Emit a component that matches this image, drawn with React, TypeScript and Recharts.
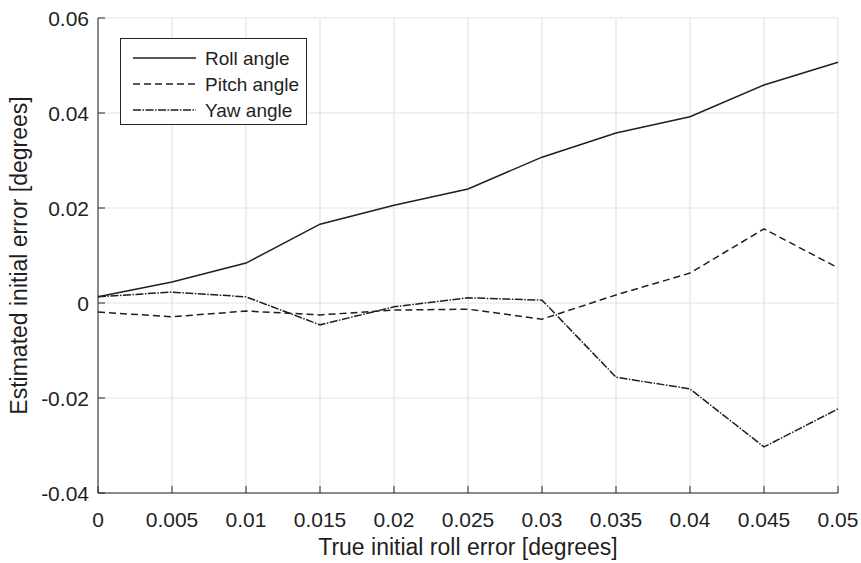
import React from 'react'
import {
  LineChart,
  Line,
  XAxis,
  YAxis,
  CartesianGrid,
} from 'recharts'

const trueRollError = [0, 0.005, 0.01, 0.015, 0.02, 0.025, 0.03, 0.035, 0.04, 0.045, 0.05]
const rollAngle = [0.0013, 0.0044, 0.0084, 0.0166, 0.0206, 0.024, 0.0307, 0.0358, 0.0392, 0.0459, 0.0507]
const pitchAngle = [-0.0019, -0.0029, -0.0017, -0.0025, -0.0015, -0.0013, -0.0034, 0.0017, 0.0063, 0.0156, 0.0074]
const yawAngle = [0.0013, 0.0023, 0.0013, -0.0046, -0.0008, 0.0011, 0.0006, -0.0156, -0.0181, -0.0303, -0.0223]

const xTicks = [0, 0.005, 0.01, 0.015, 0.02, 0.025, 0.03, 0.035, 0.04, 0.045, 0.05]
const yTicks = [-0.04, -0.02, 0, 0.02, 0.04, 0.06]

const data = trueRollError.map((x, i) => ({
  x,
  roll: rollAngle[i],
  pitch: pitchAngle[i],
  yaw: yawAngle[i],
}))

const FONT = 'Liberation Sans, Arial, sans-serif'
const INK = '#1f1f1f'
const AXIS = '#262626'

const series = [
  { key: 'roll', name: 'Roll angle', dash: undefined as string | undefined },
  { key: 'pitch', name: 'Pitch angle', dash: '7 4' },
  { key: 'yaw', name: 'Yaw angle', dash: '8 1.5 1.5 1.5' },
]

// MATLAB style ticks point into the plot
const XTick = (props: any) => {
  const { x, y, payload } = props
  return (
    <g>
      <line x1={x} x2={x} y1={y - 8} y2={y - 15} stroke={AXIS} strokeWidth={1} />
      <text x={x} y={y + 26} textAnchor="middle" fontSize={21} fill={INK} fontFamily={FONT}>
        {String(payload.value)}
      </text>
    </g>
  )
}

const YTick = (props: any) => {
  const { x, y, payload } = props
  return (
    <g>
      <line x1={x + 8} x2={x + 15} y1={y} y2={y} stroke={AXIS} strokeWidth={1} />
      <text x={x - 1} y={y + 7.5} textAnchor="end" fontSize={21} fill={INK} fontFamily={FONT}>
        {String(payload.value)}
      </text>
    </g>
  )
}

const LegendBox = () => (
  <svg
    width={188}
    height={88}
    style={{ position: 'absolute', left: 120, top: 38, display: 'block' }}
  >
    <rect x={0.5} y={0.5} width={186} height={86} fill="#fff" stroke={AXIS} strokeWidth={1} />
    {series.map((s, i) => (
      <g key={s.key}>
        <line
          x1={13}
          x2={76}
          y1={20 + i * 26}
          y2={20 + i * 26}
          stroke={INK}
          strokeWidth={1.3}
          strokeDasharray={s.dash}
        />
        <text x={85} y={26.5 + i * 26} fontSize={19} fill={INK} fontFamily={FONT}>
          {s.name}
        </text>
      </g>
    ))}
  </svg>
)

export default function App() {
  return (
    <div style={{ position: 'absolute', left: 0, top: 0, width: 861, height: 563, background: '#fff' }}>
      <LineChart
        width={861}
        height={563}
        data={data}
        margin={{ top: 18, right: 23, left: 0, bottom: 0 }}
      >
        <CartesianGrid stroke="#e3e3e3" strokeWidth={1.2} />
        <XAxis
          dataKey="x"
          type="number"
          domain={[0, 0.05]}
          ticks={xTicks}
          height={70}
          tickSize={0}
          tickMargin={8}
          tick={<XTick />}
          stroke={AXIS}
          label={{
            value: 'True initial roll error [degrees]',
            position: 'insideBottom',
            offset: 8,
            style: { fontSize: 23, fill: INK, fontFamily: FONT },
          }}
        />
        <YAxis
          type="number"
          domain={[-0.04, 0.06]}
          ticks={yTicks}
          width={98}
          tickSize={0}
          tickMargin={8}
          tick={<YTick />}
          stroke={AXIS}
          label={{
            value: 'Estimated initial error [degrees]',
            angle: -90,
            position: 'insideLeft',
            offset: 19,
            style: { fontSize: 23, fill: INK, fontFamily: FONT, textAnchor: 'middle' },
          }}
        />
        {series.map((s) => (
          <Line
            key={s.key}
            dataKey={s.key}
            name={s.name}
            stroke={INK}
            strokeWidth={1.5}
            strokeDasharray={s.dash}
            dot={false}
            isAnimationActive={false}
          />
        ))}
      </LineChart>
      <LegendBox />
    </div>
  )
}
